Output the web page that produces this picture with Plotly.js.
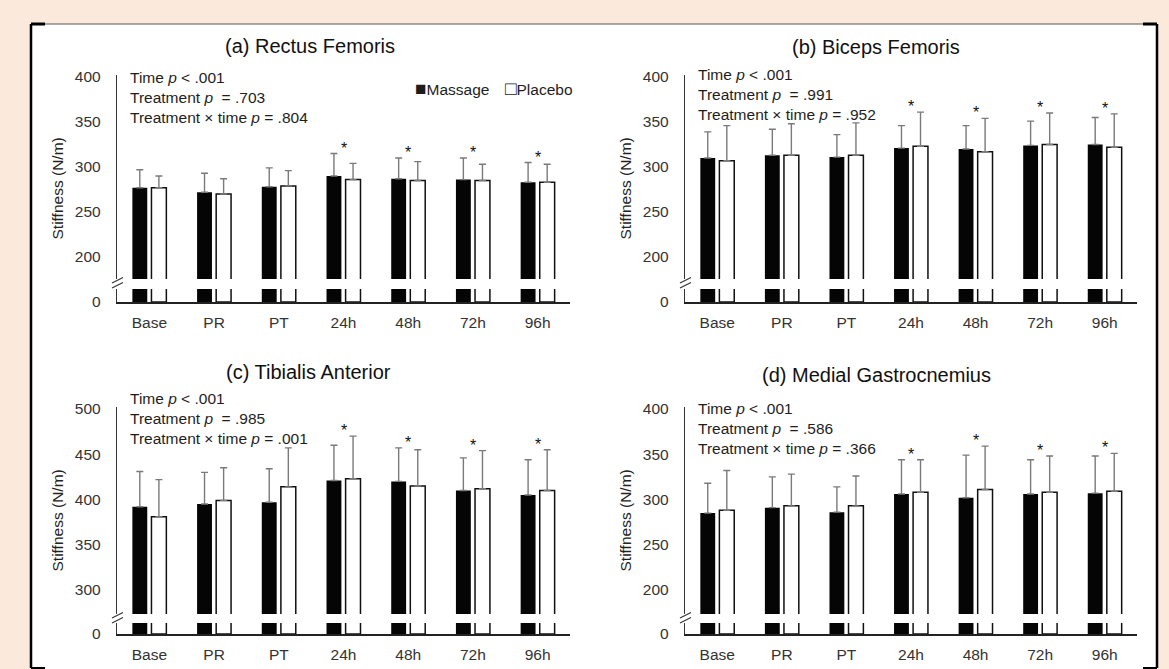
<!DOCTYPE html>
<html>
<head>
<meta charset="utf-8">
<script src="https://cdn.plot.ly/plotly-3.0.1.min.js"></script>
<style>
  html, body { margin: 0; padding: 0; background: #fbe9db; }
  #chart { width: 1169px; height: 669px; }
</style>
</head>
<body>
<div id="chart"></div>
<script>
// Measurement time points
const timepoints = ['Base', 'PR', 'PT', '24h', '48h', '72h', '96h'];

// (a) Rectus femoris stiffness, mean and SD (N/m)
const rfMassage   = [277, 272, 278, 290, 287, 286, 283];
const rfMassageSD = [20, 21, 21, 25, 23, 24, 22];
const rfPlacebo   = [277, 270, 279, 286, 285, 285, 283];
const rfPlaceboSD = [13, 17, 17, 18, 21, 18, 20];

// (b) Biceps femoris
const bfMassage   = [310, 313, 311, 321, 320, 324, 325];
const bfMassageSD = [29, 29, 25, 25, 26, 27, 30];
const bfPlacebo   = [307, 313, 313, 323, 317, 325, 322];
const bfPlaceboSD = [39, 35, 36, 38, 37, 35, 37];

// (c) Tibialis anterior
const taMassage   = [392, 395, 397, 421, 420, 410, 405];
const taMassageSD = [39, 35, 37, 39, 37, 36, 39];
const taPlacebo   = [381, 399, 414, 423, 415, 412, 410];
const taPlaceboSD = [41, 36, 43, 47, 40, 42, 45];

// (d) Medial gastrocnemius
const mgMassage   = [285, 291, 286, 306, 302, 306, 307];
const mgMassageSD = [33, 34, 28, 38, 47, 38, 41];
const mgPlacebo   = [288, 293, 293, 308, 311, 308, 309];
const mgPlaceboSD = [44, 35, 33, 36, 48, 40, 42];

// Time points that differ from baseline (drawn with *)
const timeEffect = [false, false, false, true, true, true, true];

// ANOVA results shown in each panel
const rfStats = ['Time <i>p</i> &lt; .001', 'Treatment <i>p</i>&nbsp; = .703', 'Treatment \u00d7 time <i>p</i> = .804'];
const bfStats = ['Time <i>p</i> &lt; .001', 'Treatment <i>p</i>&nbsp; = .991', 'Treatment \u00d7 time <i>p</i> = .952'];
const taStats = ['Time <i>p</i> &lt; .001', 'Treatment <i>p</i>&nbsp; = .985', 'Treatment \u00d7 time <i>p</i> = .001'];
const mgStats = ['Time <i>p</i> &lt; .001', 'Treatment <i>p</i>&nbsp; = .586', 'Treatment \u00d7 time <i>p</i> = .366'];

// Tick values of the upper (broken) axis segment
const ticks400 = [200, 250, 300, 350, 400];
const ticks500 = [300, 350, 400, 450, 500];

const panelTitles = ['(a) Rectus Femoris', '(b) Biceps Femoris', '(c) Tibialis Anterior', '(d) Medial Gastrocnemius'];
const seriesNames = ['Massage', 'Placebo'];
const yLabel = 'Stiffness (N/m)';

// ---- page geometry (pixels) ----
const W = 1169, H = 669;
const px = v => v / W;
const py = v => 1 - v / H;
const FONT = '"Liberation Sans", Arial, sans-serif';
const INK = '#1e1e1e';

const panels = [
  { title: panelTitles[0], stats: rfStats, m: rfMassage, mSD: rfMassageSD, p: rfPlacebo, pSD: rfPlaceboSD,
    ticks: ticks400, range: [175.6, 402.2], x0: 117, x1: 570, top: 75, brk: 279, low: 289, base: 302,
    titleX: 310, titleY: 46, statsY: 97.5, legend: true },
  { title: panelTitles[1], stats: bfStats, m: bfMassage, mSD: bfMassageSD, p: bfPlacebo, pSD: bfPlaceboSD,
    ticks: ticks400, range: [175.6, 402.2], x0: 685, x1: 1137, top: 75, brk: 279, low: 289, base: 302,
    titleX: 876, titleY: 47, statsY: 94 },
  { title: panelTitles[2], stats: taStats, m: taMassage, mSD: taMassageSD, p: taPlacebo, pSD: taPlaceboSD,
    ticks: ticks500, range: [273.5, 502.2], x0: 117, x1: 570, top: 407, brk: 614, low: 623, base: 634,
    titleX: 308, titleY: 372, statsY: 418 },
  { title: panelTitles[3], stats: mgStats, m: mgMassage, mSD: mgMassageSD, p: mgPlacebo, pSD: mgPlaceboSD,
    ticks: ticks400, range: [173.5, 402.2], x0: 685, x1: 1137, top: 407, brk: 614, low: 623, base: 634,
    titleX: 876, titleY: 375, statsY: 428 }
];

const traces = [];
const annotations = [];
const shapes = [];
const layout = {
  width: W, height: H,
  margin: { l: 0, r: 0, t: 0, b: 0, pad: 0 },
  paper_bgcolor: '#fbe9db',
  plot_bgcolor: 'rgba(0,0,0,0)',
  font: { family: FONT, size: 15.5, color: INK },
  barmode: 'group',
  bargap: 0.41,
  bargroupgap: 0.22,
  showlegend: false
};

const zeros = timepoints.map(() => 0);

panels.forEach((pn, i) => {
  const xn = i + 1, yu = 2 * i + 1, yl = 2 * i + 2;
  const xa = 'x' + xn, yua = 'y' + yu, yla = 'y' + yl;

  layout['xaxis' + xn] = {
    domain: [px(pn.x0), px(pn.x1)], anchor: yla, type: 'category',
    range: [-0.5, 6.5], showline: true, linecolor: '#222', linewidth: 1.5,
    ticks: '', ticklabelstandoff: 6, tickfont: { size: 15.5, color: '#333' },
    showgrid: false, zeroline: false, fixedrange: true
  };
  layout['yaxis' + yu] = {
    domain: [py(pn.brk), py(pn.top)], anchor: xa, range: pn.range,
    tickvals: pn.ticks, ticks: '', ticklabelstandoff: 12,
    tickfont: { size: 15.5, color: '#333' },
    showline: true, linecolor: '#333', linewidth: 1.2,
    showgrid: false, zeroline: false, fixedrange: true
  };
  layout['yaxis' + yl] = {
    domain: [py(pn.base), py(pn.low)], anchor: xa, range: [0, 10],
    tickvals: [0], ticks: '', ticklabelstandoff: 12,
    tickfont: { size: 15.5, color: '#333' },
    showline: true, linecolor: '#333', linewidth: 1.2,
    showgrid: false, zeroline: false, fixedrange: true
  };

  const errStyle = sd => ({
    type: 'data', symmetric: false, array: sd, arrayminus: zeros,
    color: '#7a7a7a', thickness: 1.4, width: 3.5
  });

  // upper segment with error bars
  traces.push({
    type: 'bar', name: seriesNames[0], x: timepoints, y: pn.m, xaxis: xa, yaxis: yua,
    marker: { color: '#050505', line: { width: 0 } }, error_y: errStyle(pn.mSD), hoverinfo: 'skip'
  });
  traces.push({
    type: 'bar', name: seriesNames[1], x: timepoints, y: pn.p, xaxis: xa, yaxis: yua,
    marker: { color: '#ffffff', line: { color: '#111', width: 1.5 } }, error_y: errStyle(pn.pSD), hoverinfo: 'skip'
  });
  // lower stub of the same bars below the axis break
  traces.push({
    type: 'bar', name: seriesNames[0], x: timepoints, y: pn.m, xaxis: xa, yaxis: yla,
    marker: { color: '#050505', line: { width: 0 } }, hoverinfo: 'skip'
  });
  traces.push({
    type: 'bar', name: seriesNames[1], x: timepoints, y: pn.p, xaxis: xa, yaxis: yla,
    marker: { color: '#ffffff', line: { color: '#111', width: 1.5 } }, hoverinfo: 'skip'
  });

  // panel title
  annotations.push({
    text: pn.title, xref: 'paper', yref: 'paper', x: px(pn.titleX), y: py(pn.titleY),
    xanchor: 'center', yanchor: 'middle', showarrow: false,
    font: { size: 20, color: '#111' }
  });
  // statistics block
  annotations.push({
    text: pn.stats.join('<br>'), xref: 'paper', yref: 'paper', x: px(pn.x0 + 11), y: py(pn.statsY),
    xanchor: 'left', yanchor: 'middle', align: 'left', showarrow: false,
    font: { size: 15.5, color: INK }
  });
  // y axis title, centred on the whole broken axis
  annotations.push({
    text: yLabel, xref: 'paper', yref: 'paper', x: px(pn.x0 - 60), y: py((pn.top + pn.base) / 2),
    xanchor: 'center', yanchor: 'middle', textangle: -90, showarrow: false,
    font: { size: 15.5, color: '#222' }
  });
  // significance marks above each time point
  timepoints.forEach((t, k) => {
    if (!timeEffect[k]) return;
    const top = Math.max(pn.m[k] + pn.mSD[k], pn.p[k] + pn.pSD[k]);
    annotations.push({
      text: '*', xref: xa, yref: yua, x: t, y: top, xanchor: 'center', yanchor: 'bottom',
      yshift: -5, showarrow: false, font: { size: 16, color: '#111' }
    });
  });

  // axis-break slashes
  const ax = pn.x0;
  [0, 5].forEach(d => {
    shapes.push({
      type: 'line', xref: 'paper', yref: 'paper',
      x0: px(ax - 5), y0: py(pn.brk + 4 + d), x1: px(ax + 6), y1: py(pn.brk - 1.5 + d),
      line: { color: '#333', width: 1.2 }
    });
  });

  if (pn.legend) {
    annotations.push({
      text: '<span style="font-size:19px">\u25a0</span>' + seriesNames[0], xref: 'paper', yref: 'paper',
      x: px(413), y: py(89), xanchor: 'left', yanchor: 'middle', showarrow: false,
      font: { size: 15.5, color: INK }
    });
    annotations.push({
      text: '<span style="font-size:19px">\u25a1</span>' + seriesNames[1], xref: 'paper', yref: 'paper',
      x: px(503), y: py(89), xanchor: 'left', yanchor: 'middle', showarrow: false,
      font: { size: 15.5, color: INK }
    });
  }
});

// white figure box with its frame
shapes.unshift({
  type: 'rect', xref: 'paper', yref: 'paper', layer: 'below',
  x0: px(31), x1: px(1157), y0: py(675), y1: py(24),
  fillcolor: '#ffffff', line: { width: 0 }
});
const frame = [
  [31, 24, 1157, 24, 1, '#555'],
  [31, 24, 31, 668, 2.5, '#000'],
  [1157, 24, 1157, 668, 2.5, '#000'],
  [31, 24, 45, 24, 3, '#000'],
  [1143, 24, 1157, 24, 3, '#000'],
  [31, 668, 45, 668, 2, '#000'],
  [1143, 668, 1157, 668, 2, '#000']
];
frame.forEach(f => shapes.push({
  type: 'line', xref: 'paper', yref: 'paper',
  x0: px(f[0]), y0: py(f[1]), x1: px(f[2]), y1: py(f[3]),
  line: { width: f[4], color: f[5] }
}));

layout.annotations = annotations;
layout.shapes = shapes;

Plotly.newPlot('chart', traces, layout, { displayModeBar: false, staticPlot: true });
</script>
</body>
</html>
